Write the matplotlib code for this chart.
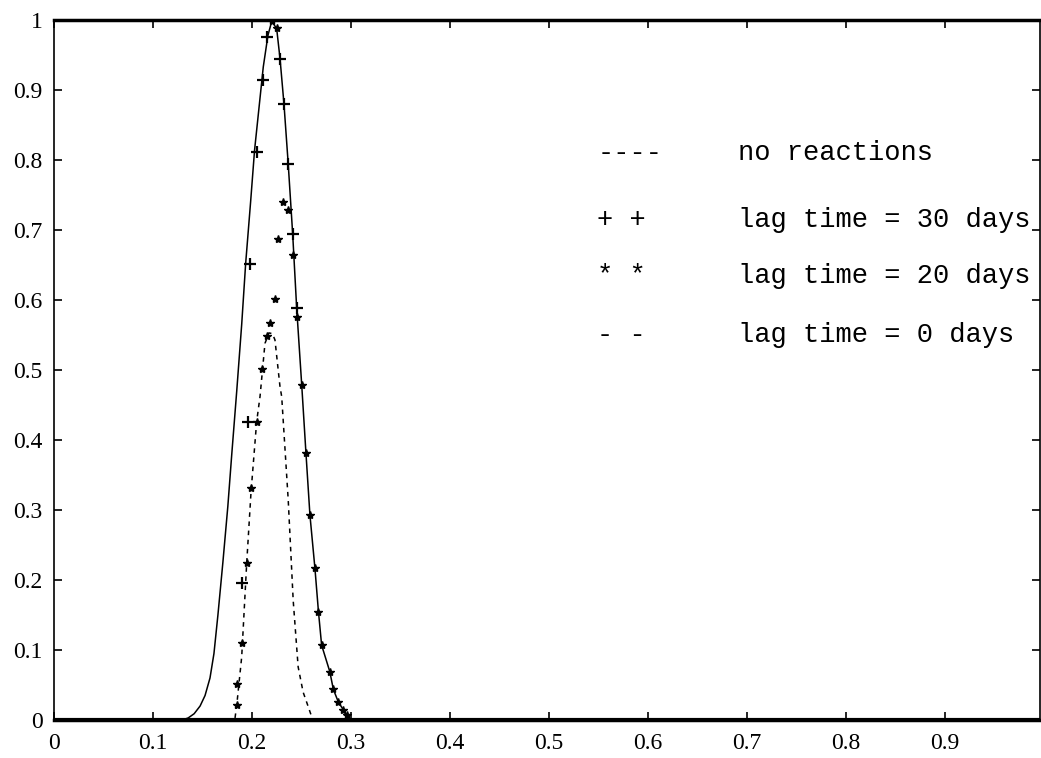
import numpy as np
import matplotlib.pyplot as plt

# no reactions (solid curve)
nr_x = [0, 0.130, 0.136, 0.142, 0.148, 0.153, 0.158, 0.162, 0.166, 0.171, 0.176,
        0.180, 0.185, 0.190, 0.194, 0.199, 0.203, 0.2118, 0.2165, 0.2203, 0.2253,
        0.2287, 0.2327, 0.2370, 0.2415, 0.2455, 0.2506, 0.2549, 0.2589, 0.2640,
        0.2675, 0.2707, 0.2790, 0.2825, 0.2875, 0.2960, 0.3000, 1.0]
nr_y = [0, 0, 0.003, 0.009, 0.020, 0.035, 0.060, 0.095, 0.150, 0.225, 0.305,
        0.380, 0.470, 0.565, 0.652, 0.740, 0.814, 0.933, 0.978, 0.998, 0.988,
        0.945, 0.880, 0.794, 0.694, 0.589, 0.479, 0.381, 0.293, 0.216,
        0.155, 0.107, 0.069, 0.044, 0.026, 0.007, 0, 0]

# lag time = 0 days (dashed curve)
l0_x = [0, 0.1830, 0.1850, 0.1900, 0.1951, 0.1994, 0.2051, 0.2085, 0.2135, 0.2175,
        0.2210, 0.2236, 0.2287, 0.2304, 0.2370, 0.2420, 0.2470, 0.2520, 0.2572, 0.2606,
        0.2620, 1.0]
l0_y = [0, 0, 0.021, 0.09, 0.225, 0.325, 0.426, 0.462, 0.538, 0.553,
        0.552, 0.543, 0.476, 0.462, 0.314, 0.171, 0.076, 0.040, 0.019, 0.005,
        0, 0]

# lag time = 30 days (+ markers)
l30_x = [0.1900, 0.1966, 0.1984, 0.2051, 0.2112, 0.2152, 0.2287, 0.2327, 0.2370,
         0.2415, 0.2455]
l30_y = [0.196, 0.426, 0.652, 0.812, 0.915, 0.976, 0.945, 0.880, 0.794,
         0.694, 0.588]

# lag time = 20 days (* markers)
l20_x = [0.185, 0.185, 0.190, 0.1951, 0.1994, 0.2051, 0.2102, 0.2156, 0.2186, 0.2236,
         0.227, 0.232, 0.2203, 0.2253, 0.237, 0.2415, 0.2455, 0.2506, 0.2549, 0.2589,
         0.264, 0.2675, 0.2707, 0.279, 0.2825, 0.2875, 0.2925, 0.296]
l20_y = [0.021, 0.052, 0.110, 0.225, 0.332, 0.426, 0.502, 0.549, 0.567, 0.602,
         0.687, 0.740, 0.998, 0.988, 0.728, 0.664, 0.576, 0.479, 0.381, 0.293,
         0.217, 0.155, 0.107, 0.069, 0.044, 0.026, 0.014, 0.007]

legend_syms = ['----', '+ +', '* *', '- -']
legend_labels = ['no reactions', 'lag time = 30 days', 'lag time = 20 days',
                 'lag time = 0 days']
legend_y = [0.81, 0.715, 0.635, 0.55]

xticks = [0, 0.1, 0.2, 0.3, 0.4, 0.5, 0.6, 0.7, 0.8, 0.9]
yticks = [0, 0.1, 0.2, 0.3, 0.4, 0.5, 0.6, 0.7, 0.8, 0.9, 1]

fig = plt.figure(figsize=(10.41, 7.58), dpi=100)
ax = fig.add_axes([0.0514, 0.0501, 0.9476, 0.9235])

ax.axhline(0, color='black', lw=3, zorder=1)
ax.plot(nr_x, nr_y, color='black', lw=1.1)
ax.plot(l0_x, l0_y, color='black', lw=1.1, linestyle=(0, (3, 3)))
ax.plot(l30_x, l30_y, '+', color='black', ms=8, mew=1.6)
ax.plot(l20_x, l20_y, '*', color='black', ms=6)

ax.set_xlim(0, 0.996)
ax.set_ylim(0, 1)
ax.set_xticks(xticks)
ax.set_yticks(yticks)
ax.set_xticklabels(['%g' % t for t in xticks])
ax.set_yticklabels(['%g' % t for t in yticks])
ax.tick_params(direction='in', length=6, width=1.2, top=True, right=True,
               labelsize=17)
ax.tick_params(axis='y', pad=8)
ax.tick_params(axis='x', pad=9)
for lab in ax.get_xticklabels() + ax.get_yticklabels():
    lab.set_fontfamily('Liberation Serif')

for side in ['left', 'right']:
    ax.spines[side].set_linewidth(1.2)
for side in ['top', 'bottom']:
    ax.spines[side].set_linewidth(2.5)

for s, lab, y in zip(legend_syms, legend_labels, legend_y):
    ax.text(0.549, y, s, family='Liberation Mono', fontsize=19.5, va='center')
    ax.text(0.691, y, lab, family='Liberation Mono', fontsize=19.5, va='center')

fig.savefig('out.png', dpi=100)
